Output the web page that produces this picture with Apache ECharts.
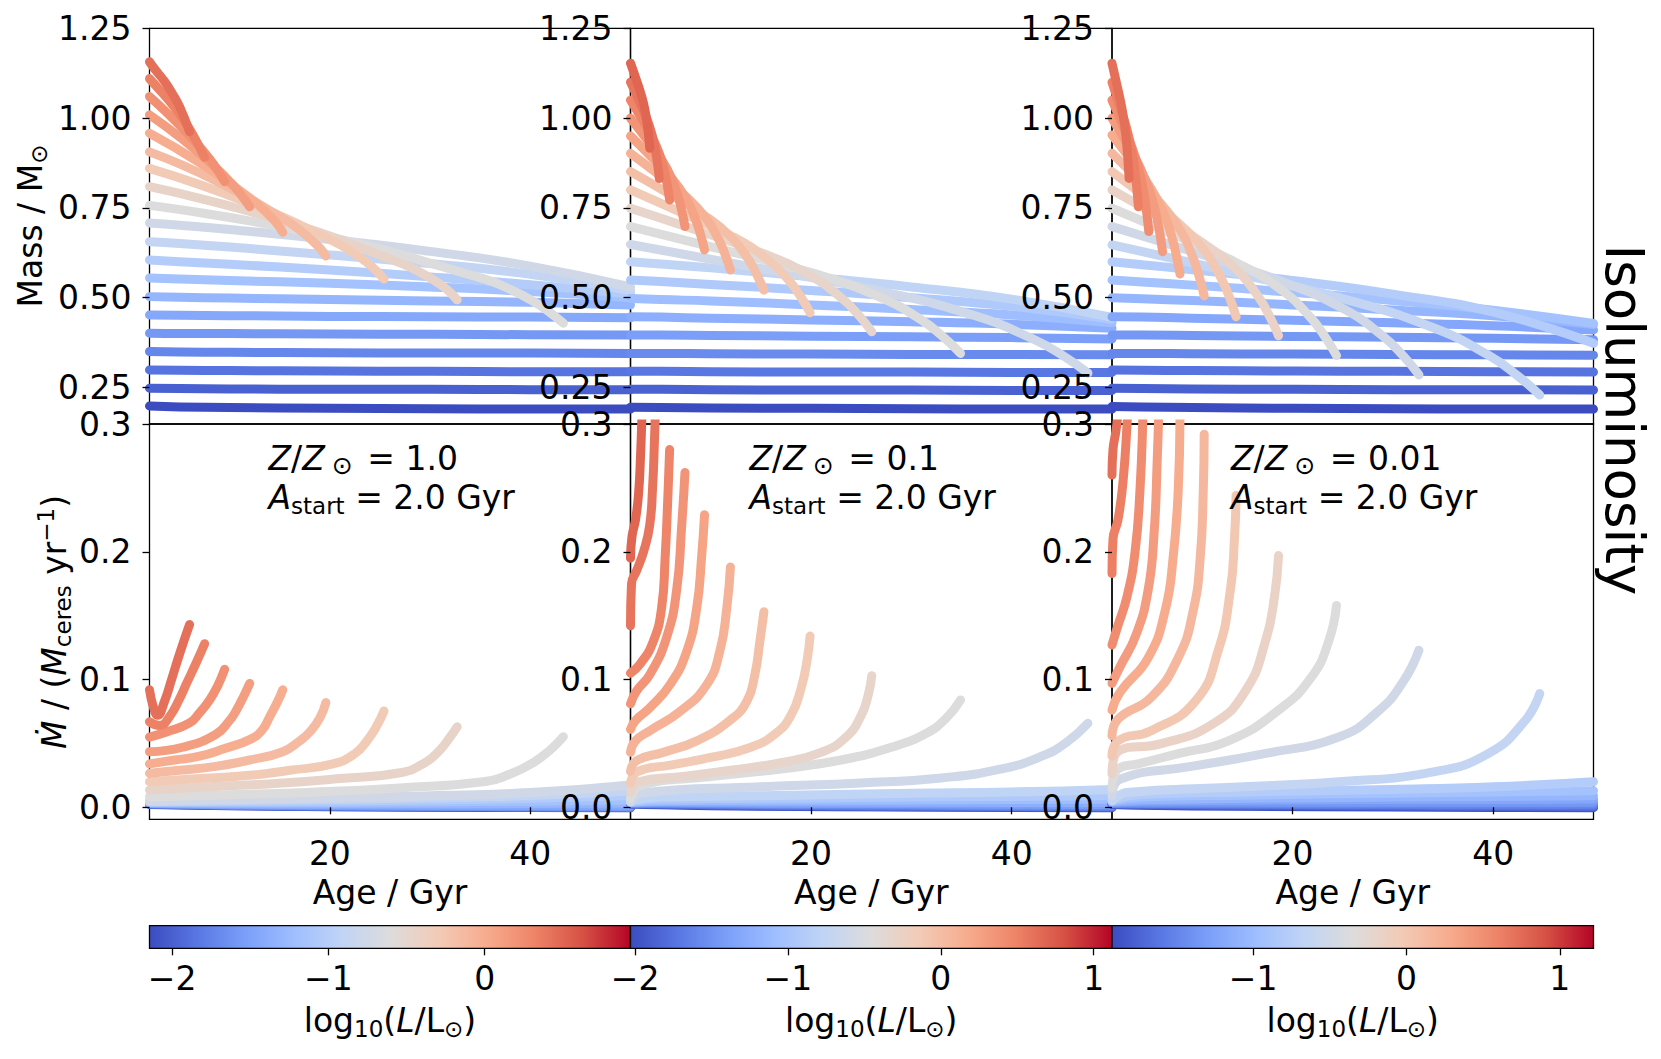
<!DOCTYPE html>
<html><head><meta charset="utf-8">
<script src="https://cdn.jsdelivr.net/npm/echarts@6/dist/echarts.min.js"></script>
<style>html,body{margin:0;padding:0;background:#fff}#c{width:1661px;height:1059px}</style>
</head><body><div id="c"></div>
<script>
// ---------------- DATA ----------------
const ageTicks = [20, 40];
const massTicks = [0.25, 0.5, 0.75, 1.0, 1.25];
const mdotTicks = [0.0, 0.1, 0.2, 0.3];
const zLabels = ['1.0', '0.1', '0.01'];
const aStartLabel = '2.0';

// colourbar ranges (log10 L/Lsun) and ticks
const cbRangeZ1 = [-2.145, 0.933];
const cbRangeZ01 = [-2.03, 1.12];
const cbRangeZ001 = [-1.92, 1.22];
const cbTicksZ1 = [-2, -1, 0];
const cbTicksZ01 = [-2, -1, 0, 1];
const cbTicksZ001 = [-1, 0, 1];

// luminosity of each track (index 0 = faintest)
const logLZ1 = [-2.145,-2.005,-1.865,-1.725,-1.585,-1.445,-1.305,-1.165,-1.025,-0.885,-0.745,-0.606,-0.452,-0.298,-0.144,-0.006,0.117,0.225,0.333,0.441];
const logLZ01 = [-2.03,-1.873,-1.715,-1.558,-1.40,-1.243,-1.085,-0.928,-0.77,-0.613,-0.455,-0.298,-0.14,-0.014,0.112,0.238,0.364,0.49,0.585,0.679];
const logLZ001 = [-1.92,-1.777,-1.634,-1.491,-1.349,-1.206,-1.063,-0.92,-0.777,-0.634,-0.491,-0.35,-0.162,-0.005,0.152,0.278,0.404,0.529,0.623,0.718];

// ---- Z = 1.0 : mass [age, Msun]
const massZ1 = [
 [[2,.1985],[5,.196],[10,.194],[20,.192],[30,.191],[40,.190],[50,.190]],
 [[2,.248],[5,.247],[10,.246],[20,.245],[30,.245],[40,.244],[50,.244]],
 [[2,.299],[5,.298],[10,.297],[20,.296],[30,.295],[40,.294],[50,.294]],
 [[2,.350],[5,.349],[10,.348],[20,.347],[30,.346],[40,.346],[50,.345]],
 [[2,.401],[5,.400],[10,.400],[20,.399],[30,.398],[40,.397],[50,.396]],
 [[2,.452],[5,.451],[10,.450],[20,.448],[30,.447],[40,.446],[50,.444]],
 [[2,.503],[5,.501],[10,.499],[20,.495],[30,.491],[40,.487],[50,.480]],
 [[2,.555],[5,.552],[10,.548],[20,.540],[30,.530],[40,.517],[50,.500]],
 [[2,.605],[5,.600],[10,.593],[20,.577],[30,.558],[40,.536],[50,.510]],
 [[2,.656],[5,.651],[10,.641],[20,.619],[30,.595],[40,.565],[50,.520]],
 [[2,.708],[5,.702],[10,.690],[20,.662],[30,.629],[40,.588],[50,.530]],
 [[2,.757],[18.7,.677],[35.3,.553],[38,.523],[40.3,.49],[42,.458],[43.3,.429]],
 [[2,.809],[15.3,.714],[27,.597],[29.5,.563],[31,.537],[32,.515],[32.7,.494]],
 [[2,.86],[12,.763],[20.3,.658],[22.5,.622],[23.7,.598],[24.7,.573],[25.4,.552]],
 [[2,.906],[8.6,.826],[15.3,.721],[17,.688],[18,.665],[19,.638],[19.6,.616]],
 [[2,.958],[7,.876],[12,.778],[13.2,.750],[14,.728],[14.8,.703],[15.3,.682]],
 [[2,1.009],[5.3,.941],[8.6,.862],[10,.823],[10.6,.805],[11.4,.777],[12,.753]],
 [[2,1.06],[3.7,1.016],[6,.951],[7,.92],[8,.886],[8.8,.855],[9.5,.823]],
 [[2,1.11],[3,1.079],[4,1.047],[5,1.011],[5.7,.983],[6.6,.94],[7.5,.891]],
 [[2,1.157],[2.4,1.141],[2.8,1.127],[3.5,1.102],[4.2,1.072],[5,1.032],[6,.962]]
];
// ---- Z = 1.0 : mass-loss rate [age, Mceres/yr]
const mdotZ1 = [
 [[2,.0022],[10,.0012],[20,.0005],[30,.0001],[40,-.0002],[50,-.0004]],
 [[2,.0024],[10,.0014],[20,.0007],[30,.0003],[40,0],[50,-.0002]],
 [[2,.0026],[10,.0016],[20,.0009],[30,.0005],[40,.0002],[50,0]],
 [[2,.0028],[10,.0018],[20,.0011],[30,.0007],[40,.0004],[50,.0002]],
 [[2,.003],[10,.002],[20,.0014],[30,.001],[40,.0008],[50,.0006]],
 [[2,.0032],[10,.0024],[20,.0019],[30,.0016],[40,.0015],[50,.0015]],
 [[2,.0035],[10,.003],[20,.0028],[30,.0028],[40,.003],[50,.0033]],
 [[2,.0038],[10,.0037],[20,.0038],[30,.0042],[40,.0048],[50,.0058]],
 [[2,.0042],[10,.0045],[20,.005],[30,.0058],[40,.007],[50,.009]],
 [[2,.0046],[10,.0053],[20,.0062],[30,.0074],[40,.0092],[50,.0128]],
 [[2,.005],[10,.0062],[20,.0075],[30,.009],[40,.0115],[50,.0175]],
 [[2,.0083],[10,.0098],[18.7,.012],[27,.0152],[35.3,.020],[38,.026],[40.3,.035],[42,.045],[43.3,.0553]],
 [[2,.0135],[8,.016],[15.3,.019],[21,.0225],[27,.027],[29.5,.035],[31,.045],[32,.055],[32.7,.063]],
 [[2,.020],[7,.0225],[12,.025],[16,.029],[20.3,.034],[22.5,.042],[23.7,.052],[24.7,.064],[25.4,.0754]],
 [[2,.0266],[5,.029],[8.6,.032],[12,.037],[15.3,.0435],[17,.052],[18,.059],[19,.070],[19.6,.082]],
 [[2,.034],[4.5,.037],[7,.040],[9.5,.046],[12,.053],[13.2,.060],[14,.071],[14.8,.083],[15.3,.092]],
 [[2,.0435],[5.3,.047],[8.6,.057],[10,.068],[10.6,.075],[11.4,.087],[12,.097]],
 [[2,.055],[3.7,.059],[6,.066],[7,.074],[8,.084],[8.8,.095],[9.5,.108]],
 [[2,.067],[3,.064],[4,.071],[5,.085],[5.7,.097],[6.6,.112],[7.5,.128]],
 [[2,.092],[2.4,.078],[2.8,.072],[3.5,.083],[4.2,.100],[5,.120],[6,.143]]
];

// ---- Z = 0.1
const massZ01 = [
 [[2,.195],[5,.194],[10,.193],[20,.192],[30,.191],[40,.190],[50,.190]],
 [[2,.245],[5,.245],[10,.244],[20,.243],[30,.243],[40,.242],[50,.242]],
 [[2,.295],[5,.295],[10,.294],[20,.293],[30,.293],[40,.292],[50,.292]],
 [[2,.345],[5,.345],[10,.344],[20,.343],[30,.342],[40,.342],[50,.341]],
 [[2,.396],[5,.396],[10,.395],[20,.393],[30,.391],[40,.389],[50,.385]],
 [[2,.447],[5,.446],[10,.443],[20,.438],[30,.433],[40,.426],[50,.415]],
 [[2,.498],[5,.495],[10,.491],[20,.480],[30,.467],[40,.452],[50,.430]],
 [[2,.549],[5,.545],[10,.537],[20,.520],[30,.500],[40,.476],[50,.440]],
 [[2,.600],[5,.594],[10,.583],[20,.558],[30,.530],[40,.496],[50,.445]],
 [[2,.648],[15.68,.578],[27.08,.517],[36.2,.451],[42.13,.385],[45.32,.335],[47.6,.29]],
 [[2,.698],[11.87,.629],[20.095,.569],[26.675,.504],[30.952,.439],[33.255,.389],[34.9,.345]],
 [[2,.749],[9.215,.682],[15.228,.623],[20.038,.560],[23.164,.496],[24.848,.448],[26.05,.405]],
 [[2,.80],[7.37,.733],[11.845,.675],[15.425,.612],[17.752,.549],[19.005,.501],[19.9,.458]],
 [[2,.851],[5.99,.787],[9.315,.730],[11.975,.670],[13.704,.609],[14.635,.562],[15.3,.521]],
 [[2,.902],[4.988,.839],[7.478,.783],[9.47,.723],[10.765,.663],[11.462,.618],[11.96,.577]],
 [[2,.95],[4.214,.888],[6.059,.834],[7.535,.776],[8.494,.717],[9.011,.673],[9.38,.633]],
 [[2,1.0],[3.629,.941],[4.987,.889],[6.073,.834],[6.778,.778],[7.159,.736],[7.43,.698]],
 [[2,1.05],[3.17,.996],[4.145,.948],[4.925,.897],[5.432,.846],[5.705,.807],[5.9,.772]],
 [[2,1.10],[2.861,1.048],[3.579,1.002],[4.153,.953],[4.526,.903],[4.727,.866],[4.87,.832]],
 [[2,1.153],[2.576,1.107],[3.056,1.066],[3.44,1.023],[3.69,.979],[3.824,.946],[3.92,.916]]
];
const mdotZ01 = [
 [[2,.0026],[5,.002],[15,.0008],[30,.0002],[40,-.0001],[50,-.0003]],
 [[2,.0028],[5,.0023],[15,.0012],[30,.0005],[40,.0002],[50,0]],
 [[2,.003],[5,.0027],[15,.0017],[30,.001],[40,.0006],[50,.0004]],
 [[2,.0032],[5,.0032],[15,.0024],[30,.0017],[40,.0013],[50,.0011]],
 [[2,.0035],[5,.0038],[15,.0032],[30,.0027],[40,.0024],[50,.0022]],
 [[2,.0038],[5,.0045],[15,.0042],[30,.004],[40,.0038],[50,.0037]],
 [[2,.004],[5,.0052],[15,.0055],[30,.0058],[40,.006],[50,.0062]],
 [[2,.0045],[5,.0065],[15,.007],[30,.008],[40,.0085],[50,.009]],
 [[2,.005],[5,.008],[15,.009],[30,.011],[40,.012],[50,.014]],
 [[2,.004],[3,.011],[15,.016],[25,.019],[33,.023],[39,.03],[43,.04],[45.5,.051],[47.6,.0657]],
 [[2,.007],[3,.017],[10,.024],[17,.03],[23,.037],[28,.047],[31.5,.058],[33.5,.07],[34.9,.084]],
 [[2,.012],[2.8,.02],[7,.024],[12,.029],[17,.035],[21,.043],[23.5,.055],[25,.072],[25.7,.088],[26.05,.103]],
 [[2,.019],[2.7,.028],[6,.033],[10,.039],[14,.047],[16.5,.058],[18,.072],[19,.093],[19.6,.115],[19.9,.134]],
 [[2,.028],[2.6,.0365],[5.27,.043],[8.6,.052],[11.9,.068],[13.6,.083],[14.4,.104],[14.9,.13],[15.3,.153]],
 [[2,.043],[2.5,.052],[3.94,.06],[6.93,.075],[9.6,.096],[10.9,.122],[11.6,.156],[11.96,.188]],
 [[2,.061],[2.5,.068],[3.94,.078],[5.94,.096],[7.6,.122],[8.6,.156],[9.09,.196],[9.38,.229]],
 [[2,.081],[2.6,.091],[3.94,.104],[5.6,.133],[6.6,.17],[7.1,.22],[7.43,.262]],
 [[2,.105],[2.95,.112],[4.28,.13],[5.1,.156],[5.45,.195],[5.75,.248],[5.9,.28]],
 [[2,.142],[2.1,.175],[2.6,.185],[3.3,.2],[3.9,.22],[4.2,.25],[4.4,.29],[4.55,.33],[4.87,.45]],
 [[2,.195],[2.15,.212],[2.5,.225],[2.8,.245],[3.0,.275],[3.15,.31],[3.5,.42],[3.92,.65]]
];

// ---- Z = 0.01
const massZ001 = [
 [[2,.197],[5,.196],[10,.194],[20,.192],[30,.191],[40,.190],[50,.190]],
 [[2,.248],[5,.247],[10,.246],[20,.245],[30,.244],[40,.244],[50,.243]],
 [[2,.299],[5,.298],[10,.297],[20,.296],[30,.295],[40,.294],[50,.293]],
 [[2,.345],[5,.345],[10,.344],[20,.343],[30,.342],[40,.341],[50,.340]],
 [[2,.396],[5,.396],[10,.395],[20,.392],[30,.390],[40,.387],[50,.383]],
 [[2,.447],[5,.446],[10,.443],[20,.437],[30,.430],[40,.422],[50,.410]],
 [[2,.500],[5,.497],[10,.492],[20,.480],[30,.466],[40,.450],[50,.425]],
 [[2,.549],[5,.544],[10,.535],[20,.515],[30,.492],[40,.465],[50,.428]],
 [[2,.600],[5,.592],[10,.578],[20,.548],[30,.510],[40,.460],[50,.373]],
 [[2,.647],[14.79,.566],[25.45,.494],[33.98,.417],[39.52,.340],[42.51,.281],[44.64,.229]],
 [[2,.698],[11.18,.618],[18.83,.546],[24.95,.471],[28.93,.395],[31.07,.337],[32.6,.285]],
 [[2,.749],[8.714,.669],[14.309,.599],[18.785,.524],[21.694,.448],[23.261,.390],[24.38,.339]],
 [[2,.80],[6.98,.721],[11.13,.651],[14.45,.577],[16.608,.502],[17.77,.445],[18.6,.394]],
 [[2,.851],[5.711,.772],[8.804,.703],[11.278,.629],[12.886,.554],[13.752,.498],[14.37,.447]],
 [[2,.902],[4.757,.825],[7.055,.756],[8.893,.684],[10.087,.610],[10.731,.555],[11.19,.505]],
 [[2,.953],[4.034,.878],[5.729,.811],[7.085,.740],[7.966,.669],[8.441,.614],[8.78,.566]],
 [[2,1.0],[3.512,.928],[4.772,.864],[5.78,.795],[6.435,.727],[6.788,.675],[7.04,.628]],
 [[2,1.05],[3.101,.979],[4.019,.916],[4.753,.849],[5.23,.781],[5.487,.730],[5.67,.684]],
 [[2,1.10],[2.789,1.032],[3.447,.973],[3.973,.909],[4.314,.845],[4.499,.796],[4.63,.753]],
 [[2,1.153],[2.51,1.090],[2.935,1.035],[3.275,.977],[3.496,.917],[3.615,.872],[3.7,.832]]
];
const mdotZ001 = [
 [[2,.0022],[5,.0016],[15,.0008],[30,.0002],[40,-.0001],[50,-.0003]],
 [[2,.0025],[5,.002],[15,.0013],[30,.0008],[40,.0005],[50,.0003]],
 [[2,.0028],[5,.0025],[15,.002],[30,.0015],[40,.0012],[50,.001]],
 [[2,.003],[5,.003],[15,.0028],[30,.0025],[40,.0024],[50,.0023]],
 [[2,.0035],[5,.004],[15,.004],[30,.004],[40,.004],[50,.004]],
 [[2,.004],[5,.005],[15,.0055],[30,.006],[40,.006],[50,.0065]],
 [[2,.0045],[5,.006],[15,.007],[30,.008],[40,.0085],[50,.009]],
 [[2,.005],[5,.008],[15,.0095],[30,.011],[40,.012],[50,.013]],
 [[2,.006],[5,.01],[15,.012],[30,.014],[40,.016],[50,.02]],
 [[2,.005],[3.5,.0115],[13.5,.0155],[24.6,.02],[33.9,.0275],[39.5,.042],[43.2,.068],[44.64,.089]],
 [[2,.009],[2.8,.022],[9.9,.032],[17.2,.042],[24.6,.055],[28.5,.075],[31,.098],[32.6,.123]],
 [[2,.015],[2.6,.03],[4.6,.034],[8.6,.042],[13.6,.052],[18.6,.076],[21.9,.102],[23.6,.13],[24.38,.158]],
 [[2,.026],[2.5,.043],[7,.05],[12,.065],[15.3,.091],[17.3,.13],[18.2,.165],[18.6,.197]],
 [[2,.040],[2.6,.052],[5.9,.06],[10.3,.083],[12.6,.123],[13.8,.17],[14.2,.209],[14.37,.244]],
 [[2,.056],[2.6,.069],[5.9,.086],[8.6,.117],[10.1,.154],[10.8,.196],[11.1,.248],[11.19,.292]],
 [[2,.076],[2.8,.09],[5.6,.117],[7.3,.154],[8.1,.196],[8.6,.248],[8.78,.31]],
 [[2,.097],[2.8,.11],[4.4,.135],[5.6,.17],[6.2,.215],[6.5,.27],[6.7,.32],[7.04,.42]],
 [[2,.127],[2.5,.14],[3.5,.165],[4.3,.2],[4.8,.25],[5.1,.31],[5.67,.45]],
 [[2,.183],[2.1,.21],[2.6,.225],[3.1,.255],[3.5,.3],[4.0,.38],[4.63,.5]],
 [[2,.26],[2.1,.28],[2.4,.295],[2.6,.31],[3.0,.38],[3.7,.55]]
];

// ---------------- STYLE / LAYOUT ----------------
const FONT = 'DejaVu Sans';
const COOLWARM = ['#3b4cc0','#5977e3','#7b9ff9','#9ebeff','#c0d4f5','#dddcdc','#f2cbb7','#f7ac8e','#ee8468','#d65244','#b40426'];
function hex2rgb(h){return [parseInt(h.substr(1,2),16),parseInt(h.substr(3,2),16),parseInt(h.substr(5,2),16)];}
function coolwarm(t){
  t = Math.max(0, Math.min(1, t));
  const s = t*10, i = Math.min(9, Math.floor(s)), f = s - i;
  const a = hex2rgb(COOLWARM[i]), b = hex2rgb(COOLWARM[i+1]);
  return 'rgb(' + a.map((v,k)=>Math.round(v+(b[k]-v)*f)).join(',') + ')';
}
const panels = [
  {mass: massZ1, mdot: mdotZ1, logL: logLZ1, cb: cbRangeZ1, cbTicks: cbTicksZ1, z: zLabels[0]},
  {mass: massZ01, mdot: mdotZ01, logL: logLZ01, cb: cbRangeZ01, cbTicks: cbTicksZ01, z: zLabels[1]},
  {mass: massZ001, mdot: mdotZ001, logL: logLZ001, cb: cbRangeZ001, cbTicks: cbTicksZ001, z: zLabels[2]}
];
const colLeft = [149.5, 630.5, 1112];
const colW = [481, 481.5, 481.5];
const rowTop = [28.3, 424];
const rowH = [395.7, 395.3];
const yMin = [0.1484, -0.0094], yMax = [1.25, 0.3];
const LW = 9;
const tickStyle = {color:'#000', width:1.3};
const labelStyle = {fontSize:33, fontFamily:FONT, color:'#000'};

const grids = [], xAxes = [], yAxes = [], series = [], graphics = [];
for (let r = 0; r < 2; r++) {
  for (let p = 0; p < 3; p++) {
    const g = grids.length;
    grids.push({left: colLeft[p], top: rowTop[r], width: colW[p], height: rowH[r], show: true,
      borderColor: '#000', borderWidth: 1.3, backgroundColor: 'rgba(0,0,0,0)'});
    xAxes.push({type:'value', gridIndex:g, min:2, max:50, z:10, splitLine:{show:false}, axisLine:{show:false},
      axisTick:{show:r===1, customValues:ageTicks, length:7, lineStyle:tickStyle},
      axisLabel:Object.assign({show:r===1, customValues:ageTicks, margin:18}, labelStyle)});
    const yt = r===0 ? massTicks : mdotTicks;
    yAxes.push({type:'value', gridIndex:g, min:yMin[r], max:yMax[r], z:10, splitLine:{show:false}, axisLine:{show:false},
      axisTick:{show:true, customValues:yt, length:7, lineStyle:tickStyle},
      axisLabel:Object.assign({customValues:yt, margin:18, formatter: v => r===0 ? Number(v).toFixed(2) : Number(v).toFixed(1)}, labelStyle)});
    const P = panels[p];
    const tracks = r===0 ? P.mass : P.mdot;
    tracks.forEach((tr, i) => {
      const col = coolwarm((P.logL[i]-P.cb[0])/(P.cb[1]-P.cb[0]));
      series.push({type:'line', xAxisIndex:g, yAxisIndex:g, data:tr, showSymbol:false, symbol:'none',
        smooth:0.5, clip:true, silent:true, z:2,
        lineStyle:{width:LW, color:col, cap:'round', join:'round'}});
    });
  }
}
// colourbars
const cbStops = COOLWARM.map((c,i)=>({offset:i/10, color:c}));
for (let p = 0; p < 3; p++) {
  const g = grids.length;
  const P = panels[p];
  grids.push({left: colLeft[p], top: 925.7, width: colW[p], height: 22.6, show:false});
  xAxes.push({type:'value', gridIndex:g, min:P.cb[0], max:P.cb[1], z:10, splitLine:{show:false}, axisLine:{show:false},
    axisTick:{show:true, customValues:P.cbTicks, length:7, lineStyle:tickStyle},
    axisLabel:Object.assign({customValues:P.cbTicks, margin:14, formatter: v => (v<0?'\u2212':'') + Math.abs(v)}, labelStyle)});
  yAxes.push({type:'value', gridIndex:g, min:0, max:1, show:false});
  series.push({type:'custom', xAxisIndex:g, yAxisIndex:g, data:[P.cb], clip:false, silent:true,
    renderItem: function(params, api){
      const a = api.coord([api.value(0), 1]), b = api.coord([api.value(1), 0]);
      return {type:'rect', shape:{x:a[0], y:a[1], width:b[0]-a[0], height:b[1]-a[1]},
        style:{fill:new echarts.graphic.LinearGradient(0,0,1,0,cbStops), stroke:'#000', lineWidth:1.3}};
    }});
}

// text
const rich = {
  n:{fontSize:33, fontFamily:FONT, lineHeight:40, color:'#000'},
  it:{fontSize:33, fontFamily:FONT, fontStyle:'italic', lineHeight:40, color:'#000'},
  sub:{fontSize:23, fontFamily:FONT, lineHeight:23, verticalAlign:'bottom', color:'#000'},
  subo:{fontSize:25, fontFamily:FONT, lineHeight:25, verticalAlign:'bottom', color:'#000', padding:[0,4,0,7]},
  sup:{fontSize:23, fontFamily:FONT, lineHeight:23, verticalAlign:'top', color:'#000'}
};
function txt(text, x, y, opt){
  opt = opt || {};
  return {type:'text', x:x, y:y, rotation:opt.rot||0, silent:true, z:100,
    style:{text:text, rich:rich, font:'33px '+FONT, fill:'#000', lineHeight:40,
      align:opt.align||'center', verticalAlign:'middle', textAlign:opt.align||'center', textVerticalAlign:'middle'}};
}
for (let p = 0; p < 3; p++) {
  const cx = colLeft[p] + colW[p]/2;
  graphics.push(txt('{n|Age / Gyr}', cx, 892));
  graphics.push(txt('{n|log}{sub|10}{n|(}{it|L}{n|/L}{sub|\u2299}{n|)}', cx, 1020));
  graphics.push(txt('{it|Z}{n|/}{it|Z}{subo|\u2299}{n| = ' + panels[p].z + '}', colLeft[p] + 119, 458, {align:'left'}));
  graphics.push(txt('{it|A}{sub|start}{n| = ' + aStartLabel + ' Gyr}', colLeft[p] + 119, 497, {align:'left'}));
}
graphics.push(txt('{n|Mass / M}{sub|\u2299}', 30, 226, {rot:Math.PI/2}));
graphics.push(txt('{it|\u1E40}{n| / (}{it|M}{sub|ceres}{n| yr}{sup|\u22121}{n|)}', 54, 622, {rot:Math.PI/2}));
graphics.push({type:'text', x:1624, y:420, rotation:-Math.PI/2, silent:true, z:100,
  style:{text:'Isoluminosity', font:'53px '+FONT, fill:'#000', align:'center', verticalAlign:'middle', textAlign:'center', textVerticalAlign:'middle'}});

const chart = echarts.init(document.getElementById('c'), null, {renderer:'svg', width:1661, height:1059});
chart.setOption({animation:false, backgroundColor:'#fff', grid:grids, xAxis:xAxes, yAxis:yAxes, series:series, graphic:graphics});
</script></body></html>
